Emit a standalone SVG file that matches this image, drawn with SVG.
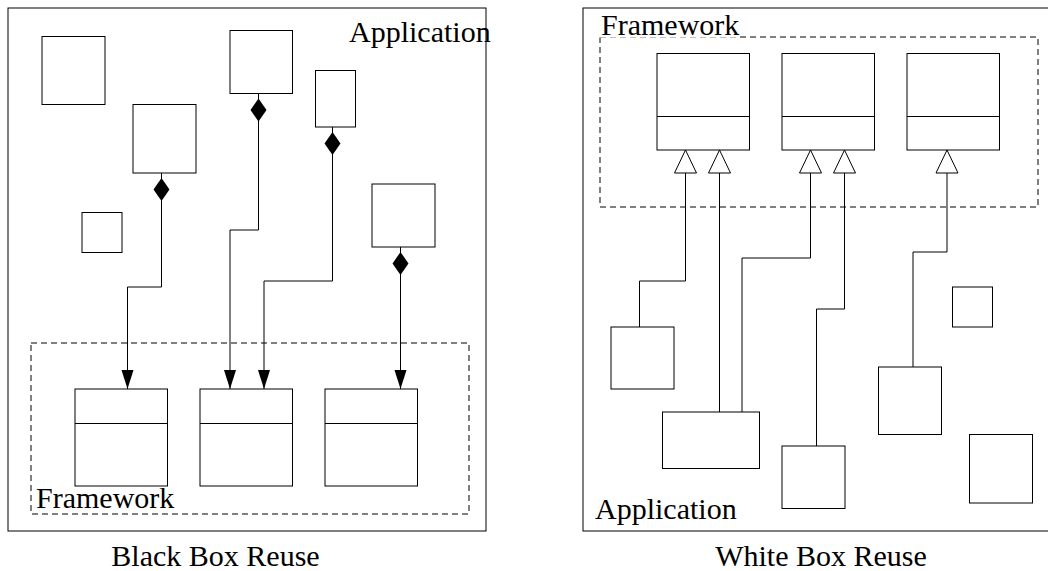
<svg xmlns="http://www.w3.org/2000/svg" width="1048" height="571" viewBox="0 0 1048 571">
<style>
.frame{fill:none;stroke:#000;stroke-width:1}
.dash{fill:none;stroke:#000;stroke-width:1;stroke-dasharray:6,4}
.box{fill:#fff;stroke:#000;stroke-width:1}
.line{fill:none;stroke:#000;stroke-width:1}
.lbl{font-family:"Liberation Serif","Times New Roman",serif;font-size:30px;fill:#000}
</style>
<defs>
<marker id="arrow" markerUnits="userSpaceOnUse" markerWidth="20" markerHeight="13" refX="19" refY="6.5" orient="auto" overflow="visible">
<path d="M0,0.5 L19,6.5 L0,12.5 z" fill="#000"/>
</marker>
<marker id="diamond" markerUnits="userSpaceOnUse" markerWidth="30" markerHeight="17" refX="0" refY="8.5" orient="auto" overflow="visible">
<path d="M5,8.5 L16.5,0.5 L28,8.5 L16.5,16.5 z" fill="#000"/>
</marker>
<marker id="tri" markerUnits="userSpaceOnUse" markerWidth="25" markerHeight="24" refX="23" refY="11.5" orient="auto" overflow="visible">
<path d="M0,0.5 L23,11.5 L0,22.5 z" fill="#fff" stroke="#000" stroke-width="1"/>
</marker>
</defs>

<!-- Black Box Reuse -->
<g id="bb-application">
<rect class="frame" x="8" y="8" width="478" height="523"/>
<text class="lbl" x="349" y="42">Application</text>
</g>
<g id="bb-framework">
<rect class="dash" x="31" y="343" width="438" height="171"/>
<text class="lbl" x="36" y="508">Framework</text>
</g>
<g id="bb-fw1"><rect class="box" x="75" y="389" width="92.5" height="97"/><line class="line" x1="75" y1="423.5" x2="167.5" y2="423.5"/></g>
<g id="bb-fw2"><rect class="box" x="200" y="389" width="92.5" height="97"/><line class="line" x1="200" y1="423.5" x2="292.5" y2="423.5"/></g>
<g id="bb-fw3"><rect class="box" x="325" y="389" width="92.5" height="97"/><line class="line" x1="325" y1="423.5" x2="417.5" y2="423.5"/></g>
<g id="bb-a1"><rect class="box" x="42" y="36.5" width="63" height="68"/></g>
<g id="bb-a2"><rect class="box" x="133" y="104.5" width="63" height="68.5"/></g>
<g id="bb-a3"><rect class="box" x="82" y="212.5" width="40" height="40"/></g>
<g id="bb-a4"><rect class="box" x="230" y="30.5" width="62.5" height="63"/></g>
<g id="bb-a5"><rect class="box" x="315.5" y="70.5" width="40" height="56.5"/></g>
<g id="bb-a6"><rect class="box" x="372" y="184" width="63" height="63"/></g>

<!-- White Box Reuse -->
<g id="wb-application">
<rect class="frame" x="583" y="8" width="480" height="523"/>
<text class="lbl" x="595" y="519">Application</text>
</g>
<g id="wb-framework">
<rect class="dash" x="600" y="37" width="438" height="170"/>
<rect x="599" y="11" width="141" height="26.5" fill="#fff"/>
<text class="lbl" x="601" y="35">Framework</text>
</g>
<g id="wb-fw1"><rect class="box" x="657" y="53.5" width="92.5" height="96.5"/><line class="line" x1="657" y1="116.5" x2="749.5" y2="116.5"/></g>
<g id="wb-fw2"><rect class="box" x="782" y="53.5" width="92.5" height="96.5"/><line class="line" x1="782" y1="116.5" x2="874.5" y2="116.5"/></g>
<g id="wb-fw3"><rect class="box" x="907" y="53.5" width="92.5" height="96.5"/><line class="line" x1="907" y1="116.5" x2="999.5" y2="116.5"/></g>
<g id="wb-a1"><rect class="box" x="611" y="327" width="63" height="62"/></g>
<g id="wb-a2"><rect class="box" x="662.5" y="412" width="97" height="56.5"/></g>
<g id="wb-a3"><rect class="box" x="782" y="446" width="63" height="62.5"/></g>
<g id="wb-a4"><rect class="box" x="878.5" y="367" width="63" height="67.5"/></g>
<g id="wb-a5"><rect class="box" x="952.5" y="287" width="40" height="40"/></g>
<g id="wb-a6"><rect class="box" x="969.5" y="434.5" width="63" height="68.5"/></g>

<g id="connectors">
<path class="line" d="M161.5,173 V287 H127.5 V389" marker-start="url(#diamond)" marker-end="url(#arrow)"/>
<path class="line" d="M258.5,93.5 V230 H230 V389" marker-start="url(#diamond)" marker-end="url(#arrow)"/>
<path class="line" d="M332.5,127 V281 H264 V389" marker-start="url(#diamond)" marker-end="url(#arrow)"/>
<path class="line" d="M400.5,247 V389" marker-start="url(#diamond)" marker-end="url(#arrow)"/>
<path class="line" d="M639.5,327 V281 H685.5 V150" marker-end="url(#tri)"/>
<path class="line" d="M719.5,412 V150" marker-end="url(#tri)"/>
<path class="line" d="M742,412 V258 H810.5 V150" marker-end="url(#tri)"/>
<path class="line" d="M816.5,446 V309 H844.5 V150" marker-end="url(#tri)"/>
<path class="line" d="M913,367 V252 H947 V150" marker-end="url(#tri)"/>
</g>

<text class="lbl" x="215.5" y="566" text-anchor="middle">Black Box Reuse</text>
<text class="lbl" x="821" y="566" text-anchor="middle">White Box Reuse</text>
</svg>
